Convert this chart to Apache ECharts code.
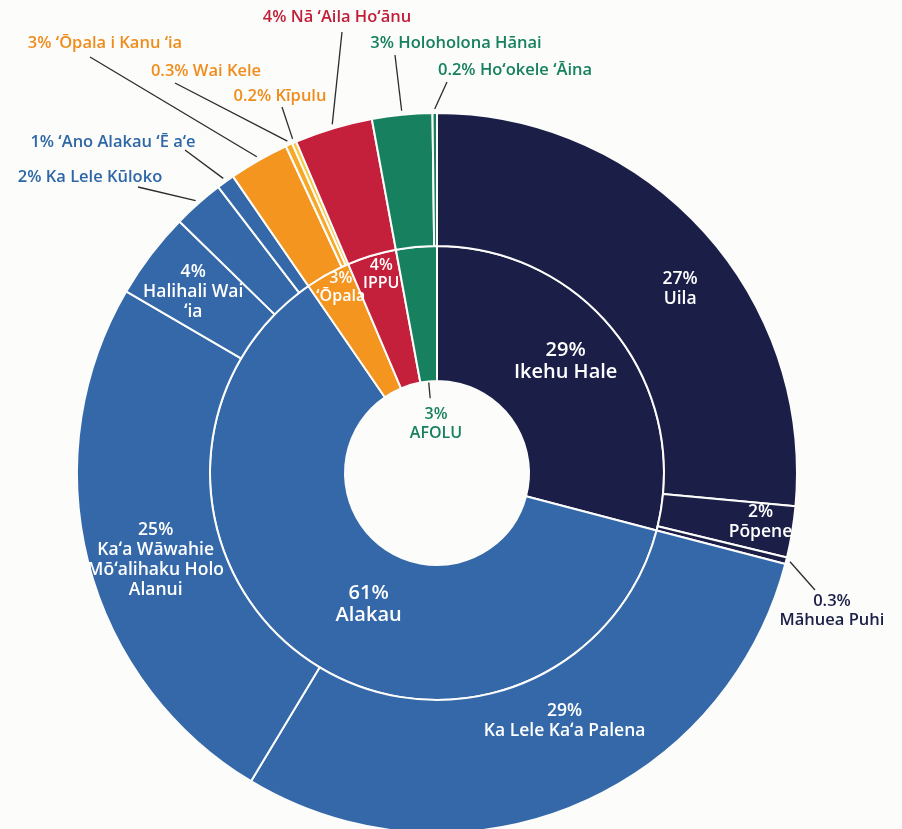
<!DOCTYPE html>
<html>
<head>
<meta charset="utf-8">
<title>Hoʻokuʻu kinoea</title>
<script src="https://cdn.jsdelivr.net/npm/echarts@6/dist/echarts.min.js"></script>
<style>
  html, body { margin: 0; padding: 0; background: #fcfcfb; }
  #chart { width: 902px; height: 829px; }
</style>
</head>
<body>
<div id="chart"></div>
<script>
// inner ring: sectors
const sectors = ["Ikehu Hale", "Alakau", "ʻŌpala", "IPPU", "AFOLU"];
const sectorPct = ["29%", "61%", "3%", "4%", "3%"];

// outer ring: sources, clockwise from 12 o'clock
const sources = [
  "Uila", "Pōpene", "Māhuea Puhi",
  "Ka Lele Kaʻa Palena", "Kaʻa Wāwahie Mōʻalihaku Holo Alanui", "Halihali Wai ʻia",
  "Ka Lele Kūloko", "ʻAno Alakau ʻĒ aʻe",
  "ʻŌpala i Kanu ʻia", "Wai Kele", "Kīpulu",
  "Nā ʻAila Hoʻānu",
  "Holoholona Hānai", "Hoʻokele ʻĀina",
];
const sourceSector = [0, 0, 0, 1, 1, 1, 1, 1, 2, 2, 2, 3, 4, 4];
const sourceValues = [26.5, 2.3, 0.3, 29.6, 24.8, 3.9, 2.3, 0.8, 2.7, 0.3, 0.2, 3.5, 2.7, 0.2];
const sourcePct = ["27%", "2%", "0.3%", "29%", "25%", "4%", "2%", "1%", "3%", "0.3%", "0.2%", "4%", "3%", "0.2%"];

// a sector is the sum of its sources
const sectorValues = sectors.map((_, i) =>
  sourceValues.reduce((sum, v, j) => (sourceSector[j] === i ? sum + v : sum), 0)
);

const sectorColors = ["#1b1f48", "#3468a8", "#f4951f", "#c41f3b", "#16805f"];
const calloutColors = ["#1b1f48", "#2e67a6", "#ef8c1c", "#c01f39", "#17805f"];
const sourceColors = { "Wai Kele": "#f6a826", "Kīpulu": "#f8c93f" };

const CENTER = [437, 473];
const R_HOLE = 92, R_MID = 227, R_OUT = 360;
const FONT = "'Open Sans', 'Noto Sans', sans-serif";

// labels placed outside the ring, with a leader line
const callouts = {
  "ʻŌpala i Kanu ʻia": { at: [105, 43], end: [90, 57] },
  "Wai Kele": { at: [206, 71], end: [175, 83] },
  "Kīpulu": { at: [280, 96], end: [282, 107] },
  "Nā ʻAila Hoʻānu": { at: [337, 17], end: [342, 32] },
  "Holoholona Hānai": { at: [456, 43], end: [395, 55] },
  "Hoʻokele ʻĀina": { at: [515, 70], end: [447, 82] },
  "ʻAno Alakau ʻĒ aʻe": { at: [113, 142], end: [185, 150] },
  "Ka Lele Kūloko": { at: [90, 177], end: [138, 187] },
  "Māhuea Puhi": { at: [832, 611], end: [815, 590], twoLines: true },
};
// small shifts of inside labels from where the pie puts them
const nudges = {
  "Ikehu Hale": [0, -12], "Alakau": [25, -2], "ʻŌpala": [-18, -43], "IPPU": [-9, -43],
  "Uila": [24, 16], "Pōpene": [31, 0], "Ka Lele Kaʻa Palena": [16, -27],
  "Kaʻa Wāwahie Mōʻalihaku Holo Alanui": [6, 14], "Halihali Wai ʻia": [-8, -1],
};
const wrapped = {
  "Kaʻa Wāwahie Mōʻalihaku Holo Alanui": "Kaʻa Wāwahie\nMōʻalihaku Holo\nAlanui",
  "Halihali Wai ʻia": "Halihali Wai\nʻia",
};

function pointAt(values, index, r) {
  const total = values.reduce((a, b) => a + b, 0);
  const before = values.slice(0, index).reduce((a, b) => a + b, 0);
  const ang = ((before + values[index] / 2) / total) * 2 * Math.PI;
  return [CENTER[0] + r * Math.sin(ang), CENTER[1] - r * Math.cos(ang)];
}

const lineStyle = { color: "#2b2b2b", width: 1.3 };

const innerData = sectors.map((name, i) => {
  const item = { name, value: sectorValues[i], itemStyle: { color: sectorColors[i] } };
  if (name === "AFOLU") {
    item.label = { position: "outside", color: calloutColors[4], fontSize: 16, lineHeight: 19 };
    item.labelLine = { show: true, lineStyle };
  } else if (name === "ʻŌpala" || name === "IPPU") {
    item.label = { fontSize: 16, lineHeight: 18 };
  }
  return item;
});

const outerData = sources.map((name, i) => {
  const g = sourceSector[i];
  const item = { name, value: sourceValues[i], itemStyle: { color: sourceColors[name] || sectorColors[g] } };
  if (callouts[name]) {
    item.label = { position: "outside", color: calloutColors[g], fontSize: 16.5, lineHeight: 19 };
    item.labelLine = { show: true, lineStyle };
  }
  return item;
});

const chart = echarts.init(document.getElementById("chart"));

chart.setOption({
  backgroundColor: "#fcfcfb",
  animation: false,
  series: [
    {
      name: "sectors",
      type: "pie",
      center: CENTER,
      radius: [R_HOLE, R_MID],
      startAngle: 90,
      clockwise: true,
      avoidLabelOverlap: false,
      silent: true,
      itemStyle: { borderColor: "#fcfcfb", borderWidth: 2 },
      label: {
        position: "inside",
        color: "#fff",
        fontFamily: FONT,
        fontWeight: 600,
        fontSize: 20,
        lineHeight: 22,
        formatter: p => sectorPct[p.dataIndex] + "\n" + (wrapped[p.name] || p.name),
      },
      labelLine: { show: false },
      labelLayout: p => {
        const name = sectors[p.dataIndex];
        if (name === "AFOLU") {
          return {
            x: 436, y: 424, align: "center", verticalAlign: "middle",
            labelLinePoints: [pointAt(sectorValues, p.dataIndex, R_HOLE), pointAt(sectorValues, p.dataIndex, R_HOLE - 17)],
          };
        }
        const n = nudges[name];
        return n ? { dx: n[0], dy: n[1] } : {};
      },
      data: innerData,
    },
    {
      name: "sources",
      type: "pie",
      center: CENTER,
      radius: [R_MID, R_OUT],
      startAngle: 90,
      clockwise: true,
      avoidLabelOverlap: false,
      silent: true,
      itemStyle: { borderColor: "#fcfcfb", borderWidth: 2 },
      label: {
        position: "inside",
        color: "#fff",
        fontFamily: FONT,
        fontWeight: 600,
        fontSize: 17.5,
        lineHeight: 20,
        formatter: p => {
          const name = sources[p.dataIndex];
          const c = callouts[name];
          if (c && !c.twoLines) return sourcePct[p.dataIndex] + " " + name;
          return sourcePct[p.dataIndex] + "\n" + (wrapped[name] || name);
        },
      },
      labelLine: { show: false },
      labelLayout: p => {
        const name = sources[p.dataIndex];
        const c = callouts[name];
        if (c) {
          return {
            x: c.at[0], y: c.at[1], align: "center", verticalAlign: "middle",
            labelLinePoints: [pointAt(sourceValues, p.dataIndex, R_OUT + 4), c.end],
          };
        }
        const n = nudges[name];
        return n ? { dx: n[0], dy: n[1] } : {};
      },
      data: outerData,
    },
  ],
});

window.addEventListener("resize", () => chart.resize());
</script>
</body>
</html>
